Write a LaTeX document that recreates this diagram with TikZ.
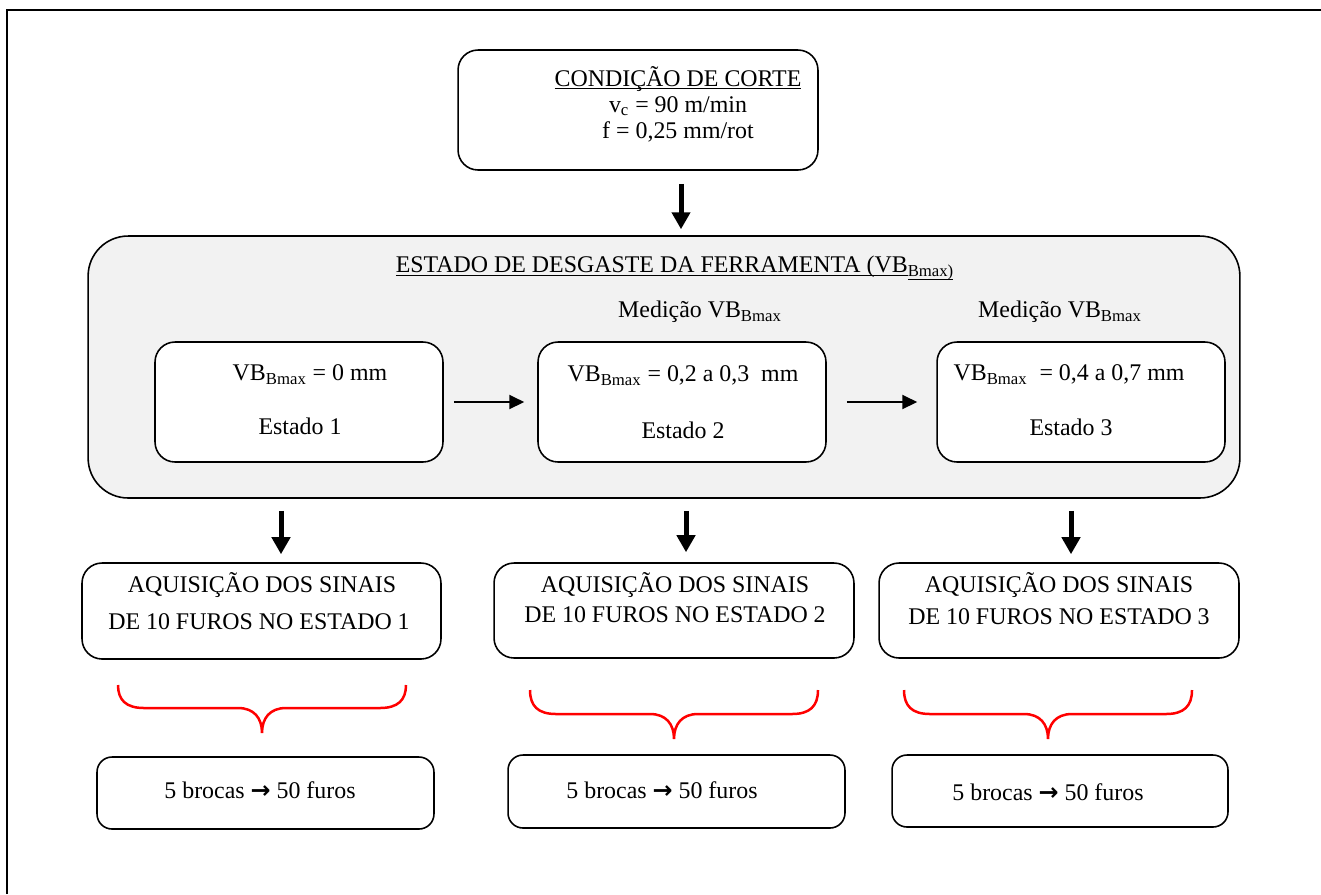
\documentclass[tikz,border=0pt]{standalone}
\usepackage{fontspec}
\setmainfont{Liberation Serif}
\newfontfamily\arrowfont{DejaVu Sans}
\usetikzlibrary{arrows.meta, positioning, calc}
\definecolor{panelgray}{RGB}{242,242,242}
\definecolor{bracered}{RGB}{255,0,0}
\newcommand{\vbmax}{VB\textsubscript{Bmax}}
\newcommand{\brarrow}{{\arrowfont\bfseries\char"2192}}
\newcommand{\uln}[1]{\underline{\raisebox{0pt}[\height][0pt]{#1}}}

\begin{document}
\begin{tikzpicture}[
  x=0.02cm, y=-0.02cm,
  font=\fontsize{13.6}{14.8}\selectfont,
  rbox/.style={draw, line width=0.9pt, rounded corners=0.4cm, fill=white},
  sbox/.style={draw, line width=0.9pt, rounded corners=0.3cm, fill=white},
  panel/.style={draw, line width=0.9pt, rounded corners=0.8cm, fill=panelgray},
  txt/.style={inner sep=0pt, align=center},
  thinarr/.style={-{Triangle[length=0.3cm,width=0.28cm]}, line width=0.04cm},
  fatarr/.style={-{Triangle[length=0.34cm,width=0.36cm]}, line width=0.1cm},
  redbrace/.style={draw=bracered, line width=0.05cm}
]
  \useasboundingbox (0,0) rectangle (1321,894);
  % frame
  \draw[line width=0.04cm] (7,894) -- (7,10) -- (1321,10);

  % cutting condition
  \node[rbox, minimum width=7.2cm, minimum height=2.4cm] (cond) at (638,110) {};
  \node[txt] (condtxt) at (678,104) {\uln{CONDIÇÃO DE CORTE}\\v\textsubscript{c} = 90 m/min\\f = 0,25 mm/rot};

  % wear states
  \node[panel, minimum width=23.04cm, minimum height=5.24cm] (big) at (664,367) {};
  \node[txt] (bigtxt) at (675,268) {\uln{ESTADO DE DESGASTE DA FERRAMENTA (VB}\textsubscript{\uln{Bmax)}}};
  \node[txt] (med2) at (700,312) {Medição \vbmax};
  \node[txt] (med3) at (1060,312) {Medição \vbmax};

  \node[rbox, minimum width=5.76cm, minimum height=2.4cm] (s1) at (299,402) {};
  \node[rbox, minimum width=5.76cm, minimum height=2.4cm] (s2) at (682,402) {};
  \node[rbox, minimum width=5.76cm, minimum height=2.4cm] (s3) at (1081,402) {};
  \node[txt] (s1a) at (310,375) {\vbmax\ = 0 mm};
  \node[txt] (s1b) at (300,426) {Estado 1};
  \node[txt] (s2a) at (683,376) {\vbmax\ = 0,2 a 0,3~ mm};
  \node[txt] (s2b) at (683,430) {Estado 2};
  \node[txt] (s3a) at (1069,375) {\vbmax~ = 0,4 a 0,7 mm};
  \node[txt] (s3b) at (1071,427) {Estado 3};

  \draw[thinarr, shorten <=0.2cm, shorten >=0.26cm] (s1) -- (s2);
  \draw[thinarr, shorten <=0.4cm, shorten >=0.38cm] (s2) -- (s3);

  % acquisition
  \node[rbox, minimum width=7.18cm, minimum height=1.92cm] (a1) at (261.5,611) {};
  \node[rbox, minimum width=7.2cm, minimum height=1.9cm] (a2) at (674,610.5) {};
  \node[rbox, minimum width=7.2cm, minimum height=1.9cm] (a3) at (1059,610.5) {};
  \node[txt] (a1a) at (262,585) {AQUISIÇÃO DOS SINAIS};
  \node[txt] (a1b) at (259,622) {DE 10 FUROS NO ESTADO 1};
  \node[txt] (a2a) at (675,585) {AQUISIÇÃO DOS SINAIS};
  \node[txt] (a2b) at (675,615) {DE 10 FUROS NO ESTADO 2};
  \node[txt] (a3a) at (1059,585) {AQUISIÇÃO DOS SINAIS};
  \node[txt] (a3b) at (1059,617) {DE 10 FUROS NO ESTADO 3};

  \coordinate (d0) at (681,0);
  \coordinate (d1) at (281,0);
  \coordinate (d2) at (686,0);
  \coordinate (d3) at (1071,0);
  \draw[fatarr, shorten <=0.26cm, shorten >=0.12cm] (d0 |- cond.south) -- (d0 |- big.north);
  \draw[fatarr, shorten <=0.24cm, shorten >=0.16cm] (d1 |- big.south) -- (d1 |- a1.north);
  \draw[fatarr, shorten <=0.24cm, shorten >=0.2cm] (d2 |- big.south) -- (d2 |- a2.north);
  \draw[fatarr, shorten <=0.24cm, shorten >=0.16cm] (d3 |- big.south) -- (d3 |- a3.north);

  % braces
  \draw[redbrace] (118,685) .. controls (118,700) and (126,708) .. (144,708) -- (238,708)
    .. controls (254,708) and (262,718) .. (262,733) .. controls (262,718) and (270,708) .. (286,708)
    -- (380,708) .. controls (398,708) and (406,700) .. (406,685);
  \draw[redbrace] (530,690) .. controls (530,706) and (538,714) .. (556,714) -- (650,714)
    .. controls (666,714) and (674,724) .. (674,739) .. controls (674,724) and (682,714) .. (698,714)
    -- (792,714) .. controls (810,714) and (818,706) .. (818,690);
  \draw[redbrace] (904,690) .. controls (904,706) and (912,714) .. (930,714) -- (1024,714)
    .. controls (1040,714) and (1048,724) .. (1048,739) .. controls (1048,724) and (1056,714) .. (1072,714)
    -- (1166,714) .. controls (1184,714) and (1192,706) .. (1192,690);

  % drills
  \node[sbox, minimum width=6.74cm, minimum height=1.44cm] (c1) at (265.5,793) {};
  \node[sbox, minimum width=6.74cm, minimum height=1.46cm] (c2) at (676.5,791.5) {};
  \node[sbox, minimum width=6.72cm, minimum height=1.44cm] (c3) at (1060,791) {};
  \node[txt] (c1t) at (260,790) {5 brocas \brarrow\ 50 furos};
  \node[txt] (c2t) at (662,790) {5 brocas \brarrow\ 50 furos};
  \node[txt] (c3t) at (1048,792) {5 brocas \brarrow\ 50 furos};
\end{tikzpicture}
\end{document}
